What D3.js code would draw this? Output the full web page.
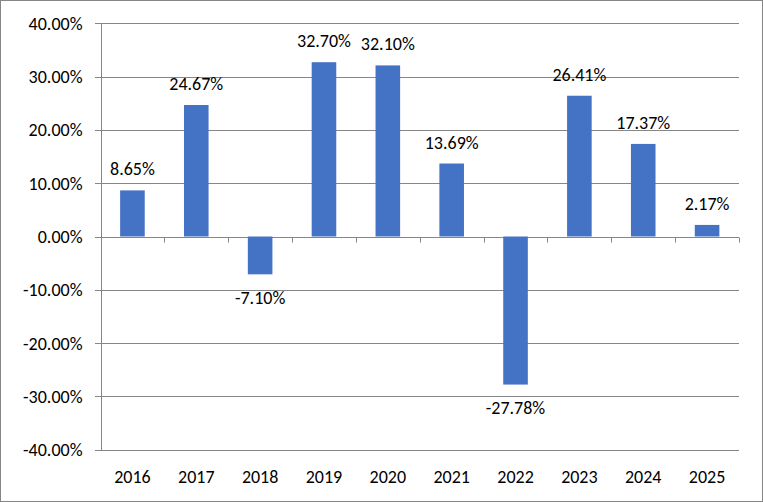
<!DOCTYPE html>
<html><head><meta charset="utf-8">
<script src="https://cdn.jsdelivr.net/npm/d3@7/dist/d3.min.js"></script>
<style>body{margin:0;background:#fff}svg{display:block}</style>
</head><body>
<script>
const categories = ["2016","2017","2018","2019","2020","2021","2022","2023","2024","2025"];
const values = [8.65, 24.67, -7.10, 32.70, 32.10, 13.69, -27.78, 26.41, 17.37, 2.17];
const yTicks = [-40,-30,-20,-10,0,10,20,30,40];

const W = 763, H = 502;
const m = {left:100.5, right:24, top:23.3, bottom:52.3};
const font = "Carlito, Calibri, Lato, sans-serif";
const fs = 18;
const svg = d3.select("body").append("svg").attr("width",W).attr("height",H);
svg.append("rect").attr("x",0.5).attr("y",0.5).attr("width",W-1).attr("height",H-1)
  .attr("fill","#fff").attr("stroke","#868686");

const x = d3.scaleBand().domain(categories).range([m.left, W-m.right]).paddingInner(0.615).paddingOuter(0.3075);
const y = d3.scaleLinear().domain([-40,40]).range([H-m.bottom, m.top]);
const step = x.step();

const g = svg.append("g");
// gridlines
g.selectAll("line.grid").data(yTicks).join("line")
  .attr("x1", m.left-5.5).attr("x2", W-m.right)
  .attr("y1", d=>Math.round(y(d))+0.5).attr("y2", d=>Math.round(y(d))+0.5)
  .attr("stroke","#868686").attr("stroke-width",1);
// vertical axis line
g.append("line").attr("x1",Math.round(m.left)+0.5).attr("x2",Math.round(m.left)+0.5)
  .attr("y1",Math.round(y(40))+0.5).attr("y2",Math.round(y(-40))+0.5)
  .attr("stroke","#868686");
// category tick marks on zero line
const boundaries = categories.map((c,i)=>x(c)-x.paddingOuter()*step + step).slice(0);
g.selectAll("line.xt").data(boundaries).join("line")
  .attr("x1",d=>Math.round(d)+0.5).attr("x2",d=>Math.round(d)+0.5)
  .attr("y1",Math.round(y(0))+0.5).attr("y2",Math.round(y(0))+5.5)
  .attr("stroke","#868686");
// y labels
g.selectAll("text.yl").data(yTicks).join("text")
  .attr("x", m.left-18).attr("y", d=>y(d)).attr("dy","0.36em")
  .attr("text-anchor","end").attr("font-family",font).attr("font-size",fs).attr("fill","#000")
  .text(d=>d.toFixed(2)+"%");
// bars
g.selectAll("rect.bar").data(values).join("rect")
  .attr("x",(d,i)=>x(categories[i])).attr("width",x.bandwidth())
  .attr("y",d=>y(Math.max(0,d))).attr("height",d=>Math.abs(y(d)-y(0)))
  .attr("fill","#4472C4");
// value labels
g.selectAll("text.vl").data(values).join("text")
  .attr("x",(d,i)=>x(categories[i])+x.bandwidth()/2)
  .attr("y",d=> d>=0 ? y(d)-15 : y(d)+29.5)
  .attr("text-anchor","middle").attr("font-family",font).attr("font-size",fs).attr("fill","#000")
  .text(d=>d.toFixed(2)+"%");
// x labels
g.selectAll("text.xl").data(categories).join("text")
  .attr("x",d=>x(d)+x.bandwidth()/2).attr("y",H-m.bottom+33)
  .attr("text-anchor","middle").attr("font-family",font).attr("font-size",fs).attr("fill","#000")
  .text(d=>d);
</script>
</body></html>
